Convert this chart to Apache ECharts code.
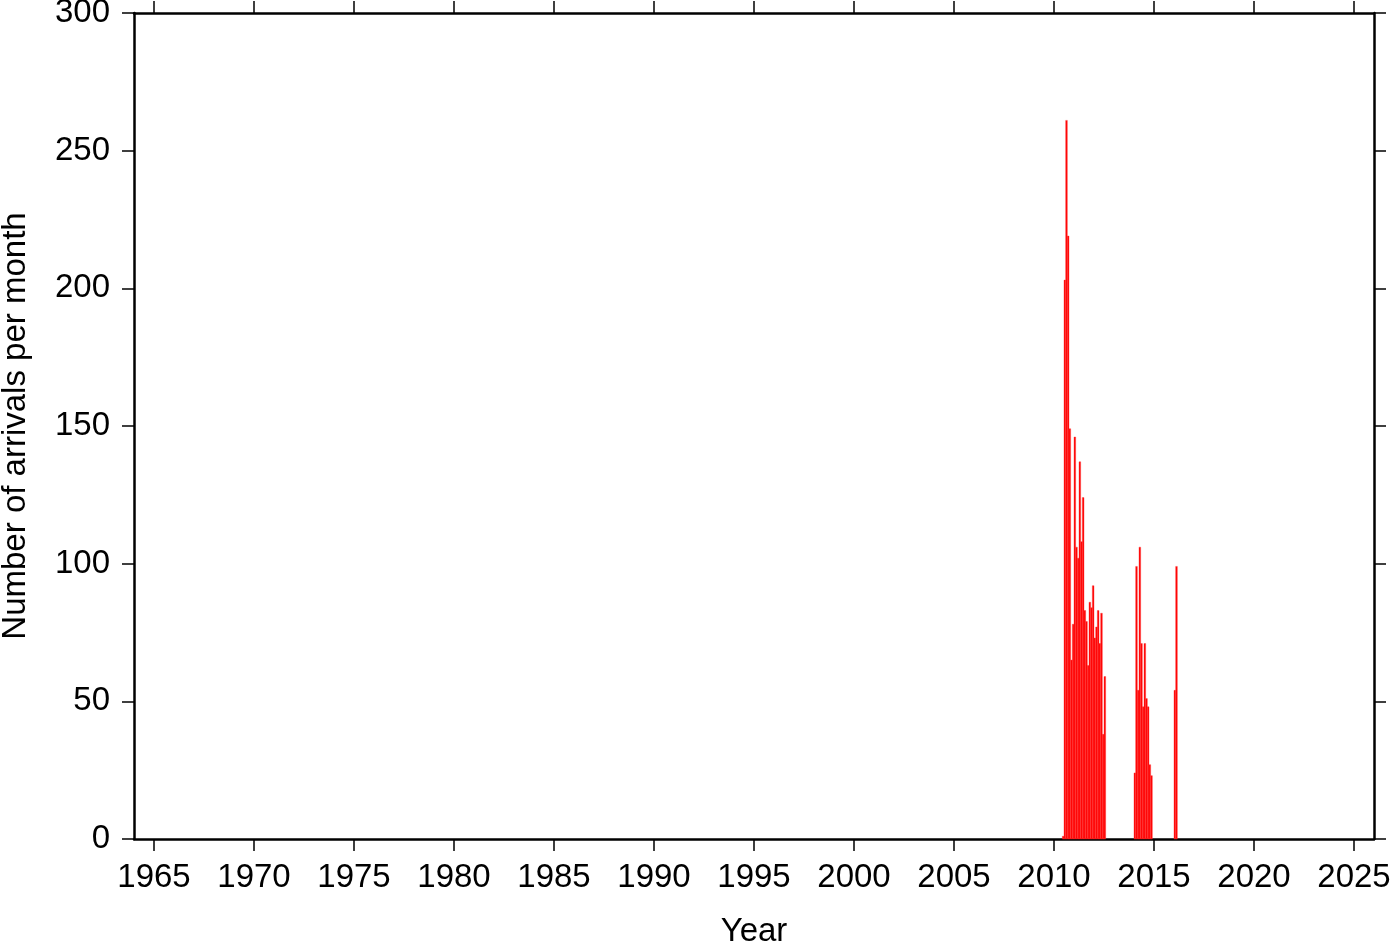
<!DOCTYPE html>
<html>
<head>
<meta charset="utf-8">
<script src="https://cdn.jsdelivr.net/npm/echarts@6/dist/echarts.min.js"></script>
<style>html,body{margin:0;padding:0;background:#fff;}#c{width:1400px;height:942px;}</style>
</head>
<body>
<div id="c"></div>
<script>
// Monthly bins (YYYY-MM) and number of arrivals in each
const months = [
  "2010-06","2010-07","2010-08","2010-09","2010-10","2010-11","2010-12",
  "2011-01","2011-02","2011-03","2011-04","2011-05","2011-06","2011-07","2011-08","2011-09","2011-10","2011-11","2011-12",
  "2012-01","2012-02","2012-03","2012-04","2012-05","2012-06","2012-07",
  "2014-01","2014-02","2014-03","2014-04","2014-05","2014-06","2014-07","2014-08","2014-09","2014-10","2014-11",
  "2016-01","2016-02"
];
const arrivals = [
  1, 203, 261, 219, 149, 65, 78,
  146, 106, 102, 137, 108, 124, 83, 79, 63, 86, 84, 92,
  73, 77, 83, 71, 82, 38, 59,
  24, 99, 54, 106, 71, 48, 71, 51, 48, 27, 23,
  54, 99
];
const yearTicks = [1965,1970,1975,1980,1985,1990,1995,2000,2005,2010,2015,2020,2025];
const yTicks = [0,50,100,150,200,250,300];

const data = months.map((m, i) => {
  const [y, mo] = m.split('-').map(Number);
  return [y + (mo - 1) / 12, arrivals[i]];
});

const font = 'Liberation Sans, Arial, Helvetica, sans-serif';
const fs = 33;
const lineStyle = {color: '#000', width: 2.5};
const tickStyle = {color: '#000', width: 1.5};

const chart = echarts.init(document.getElementById('c'), null, {renderer: 'canvas'});
chart.setOption({
  animation: false,
  backgroundColor: '#fff',
  grid: {left: 134, right: 26, top: 13, bottom: 103, containLabel: false, outerBoundsMode: 'none'},
  xAxis: [{
    type: 'value', min: 1964, max: 2026, position: 'bottom',
    name: 'Year', nameLocation: 'middle', nameGap: 76,
    nameTextStyle: {fontFamily: font, fontSize: fs, color: '#000'},
    axisLine: {show: true, onZero: false, lineStyle: lineStyle},
    axisTick: {show: true, length: 12, inside: false, customValues: yearTicks, lineStyle: tickStyle},
    axisLabel: {show: true, customValues: yearTicks, margin: 22, fontFamily: font, fontSize: fs, color: '#000', formatter: v => String(v)},
    splitLine: {show: false}
  }, {
    type: 'value', min: 1964, max: 2026, position: 'top',
    axisLine: {show: true, onZero: false, lineStyle: lineStyle},
    axisTick: {show: true, length: 12, inside: false, customValues: yearTicks, lineStyle: tickStyle},
    axisLabel: {show: false},
    splitLine: {show: false}
  }],
  yAxis: [{
    type: 'value', min: 0, max: 300, interval: 50, position: 'left',
    name: 'Number of arrivals per month', nameLocation: 'middle', nameGap: 102,
    nameTextStyle: {fontFamily: font, fontSize: fs, color: '#000'},
    axisLine: {show: true, onZero: false, lineStyle: lineStyle},
    axisTick: {show: true, length: 12, inside: false, lineStyle: tickStyle},
    axisLabel: {show: true, margin: 24, fontFamily: font, fontSize: fs, color: '#000'},
    splitLine: {show: false}
  }, {
    type: 'value', min: 0, max: 300, interval: 50, position: 'right',
    axisLine: {show: true, onZero: false, lineStyle: lineStyle},
    axisTick: {show: true, length: 12, inside: false, lineStyle: tickStyle},
    axisLabel: {show: false},
    splitLine: {show: false}
  }],
  series: [{
    type: 'custom',
    xAxisIndex: 0, yAxisIndex: 0,
    data: data,
    renderItem: function (params, api) {
      const x0 = api.value(0), v = api.value(1);
      const p0 = api.coord([x0, v]);
      const p1 = api.coord([x0 + 1 / 12, 0]);
      return {
        type: 'rect',
        shape: {x: p0[0], y: p0[1], width: p1[0] - p0[0], height: p1[1] - p0[1]},
        style: {fill: '#ff0000', stroke: '#ff3a3a', lineWidth: 0.4}
      };
    }
  }]
});
</script>
</body>
</html>
